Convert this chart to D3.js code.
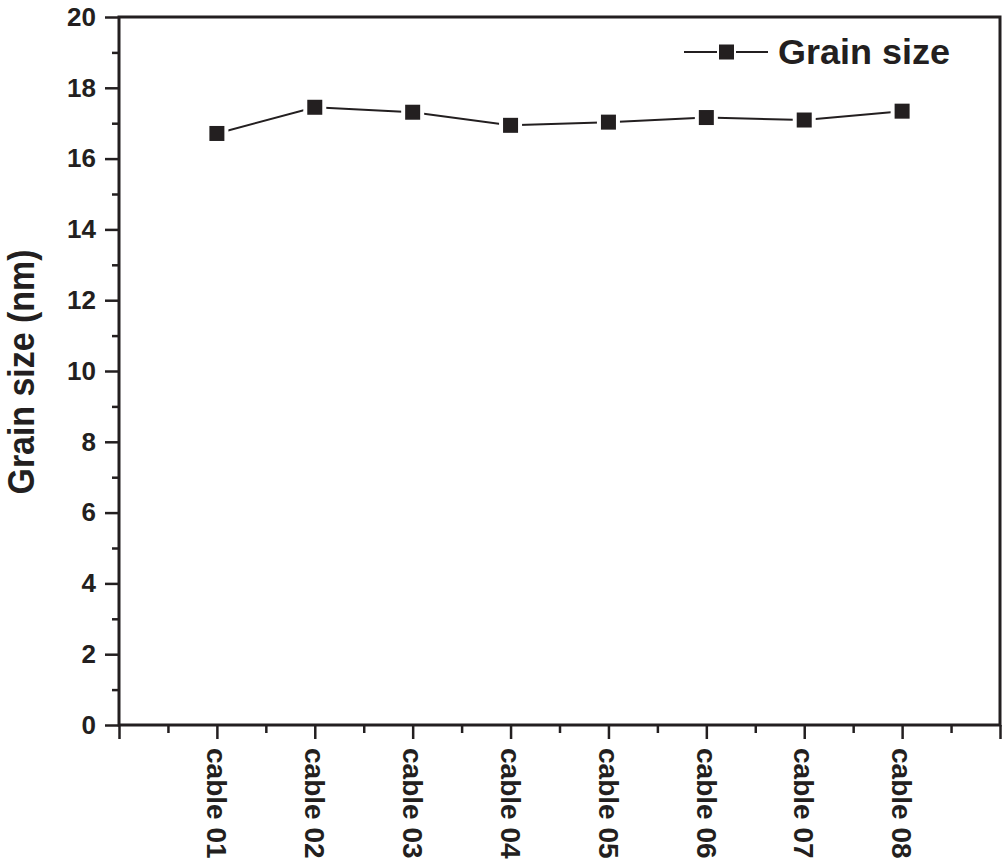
<!DOCTYPE html>
<html>
<head>
<meta charset="utf-8">
<script src="https://cdn.jsdelivr.net/npm/d3@7"></script>
<style>
  html, body { margin: 0; padding: 0; background: #fff; }
  svg { display: block; }
  text { font-family: "Liberation Sans", Arial, Helvetica, sans-serif; font-weight: bold; fill: #231f20; }
</style>
</head>
<body>
<svg id="chart" width="1002" height="866"></svg>
<script>
const categories = ["cable 01", "cable 02", "cable 03", "cable 04", "cable 05", "cable 06", "cable 07", "cable 08"];
const grainSize = [16.71, 17.45, 17.31, 16.94, 17.03, 17.16, 17.09, 17.34];
const yTicks = [0, 2, 4, 6, 8, 10, 12, 14, 16, 18, 20];
const seriesName = "Grain size";
const yTitle = "Grain size (nm)";

const ink = "#231f20";
const svg = d3.select("#chart");
const m = { left: 119, right: 1000, top: 17, bottom: 725 };

const x = d3.scaleLinear().domain([0, categories.length + 1]).range([m.left, m.right]);
const y = d3.scaleLinear().domain([0, 20]).range([m.bottom, m.top]);

// Frame
svg.append("rect")
  .attr("x", m.left).attr("y", m.top)
  .attr("width", m.right - m.left).attr("height", m.bottom - m.top)
  .attr("fill", "none").attr("stroke", ink).attr("stroke-width", 3);

// Y axis minor ticks
const yMinor = d3.range(1, 20, 2);
svg.append("g").attr("transform", `translate(${m.left},0)`)
  .call(d3.axisLeft(y).tickValues(yMinor).tickSize(7).tickFormat(""))
  .call(g => g.select(".domain").remove())
  .call(g => g.selectAll("line").attr("stroke", ink).attr("stroke-width", 2.5));

// Y axis major
svg.append("g").attr("transform", `translate(${m.left},0)`)
  .call(d3.axisLeft(y).tickValues(yTicks).tickSize(14).tickPadding(9).tickFormat(d3.format("d")))
  .call(g => g.select(".domain").remove())
  .call(g => g.selectAll("line").attr("stroke", ink).attr("stroke-width", 2.5))
  .call(g => g.selectAll("text").attr("font-size", 26).attr("font-family", "Liberation Sans, Arial, sans-serif").attr("font-weight", "bold").attr("fill", ink));

// X axis minor ticks (half positions)
const xMinor = d3.range(0.5, categories.length + 1, 1);
svg.append("g").attr("transform", `translate(0,${m.bottom})`)
  .call(d3.axisBottom(x).tickValues(xMinor).tickSize(8).tickFormat(""))
  .call(g => g.select(".domain").remove())
  .call(g => g.selectAll("line").attr("stroke", ink).attr("stroke-width", 2.5));

// X axis major ticks
const xMajor = d3.range(0, categories.length + 2);
svg.append("g").attr("transform", `translate(0,${m.bottom})`)
  .call(d3.axisBottom(x).tickValues(xMajor).tickSize(14).tickFormat(""))
  .call(g => g.select(".domain").remove())
  .call(g => g.selectAll("line").attr("stroke", ink).attr("stroke-width", 2.5));

// X labels rotated
svg.append("g").selectAll("text").data(categories).join("text")
  .attr("transform", (d, i) => `translate(${x(i + 1)},${m.bottom + 23}) rotate(90)`)
  .attr("text-anchor", "start")
  .attr("dy", "0.35em")
  .attr("font-size", 28)
  .text(d => d);

// Y title
svg.append("text")
  .attr("transform", `translate(34,372) rotate(-90)`)
  .attr("text-anchor", "middle")
  .attr("font-size", 37)
  .attr("textLength", 245)
  .attr("lengthAdjust", "spacingAndGlyphs")
  .text(yTitle);

// Line
const line = d3.line().x((d, i) => x(i + 1)).y(d => y(d));
svg.append("path").datum(grainSize)
  .attr("d", line).attr("fill", "none").attr("stroke", ink).attr("stroke-width", 2);

// Markers with white gap
const ms = 15;
const mk = svg.append("g");
mk.selectAll("rect.gap").data(grainSize).join("rect").attr("class", "gap")
  .attr("x", (d, i) => x(i + 1) - ms / 2 - 4).attr("y", d => y(d) - ms / 2 - 4)
  .attr("width", ms + 8).attr("height", ms + 8).attr("fill", "#fff");
mk.selectAll("rect.pt").data(grainSize).join("rect").attr("class", "pt")
  .attr("x", (d, i) => x(i + 1) - ms / 2).attr("y", d => y(d) - ms / 2)
  .attr("width", ms).attr("height", ms).attr("fill", ink);

// Legend
const lg = svg.append("g").attr("transform", "translate(684,52)");
lg.append("line").attr("x1", 0).attr("x2", 33).attr("y1", 0).attr("y2", 0).attr("stroke", ink).attr("stroke-width", 2);
lg.append("line").attr("x1", 52).attr("x2", 84).attr("y1", 0).attr("y2", 0).attr("stroke", ink).attr("stroke-width", 2);
lg.append("rect").attr("x", 35).attr("y", -7.5).attr("width", 15).attr("height", 15).attr("fill", ink);
lg.append("text").attr("x", 94).attr("y", 11.5).attr("font-size", 35)
  .attr("textLength", 172).attr("lengthAdjust", "spacingAndGlyphs").text(seriesName);
</script>
</body>
</html>
